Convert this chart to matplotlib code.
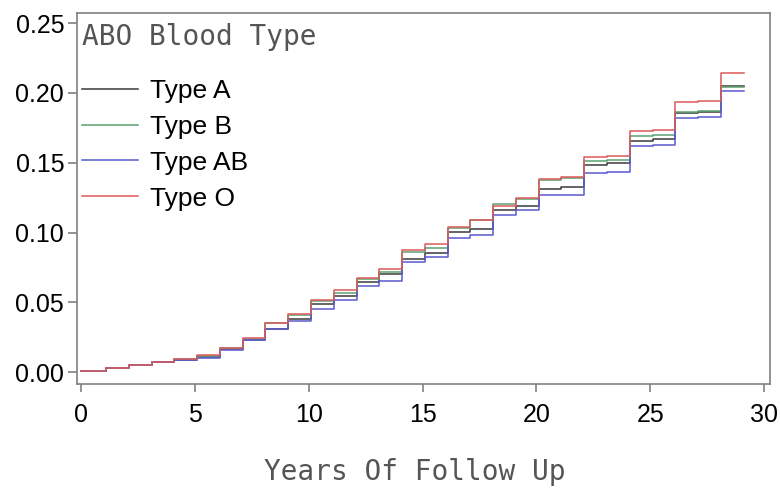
import matplotlib
matplotlib.use("Agg")
import matplotlib.pyplot as plt
import numpy as np

# step times (years) and cumulative incidence for each blood type
years = [0, 1.1, 2.1, 3.1, 4.1, 5.1, 6.1, 7.1, 8.1, 9.1, 10.1, 11.1, 12.1, 13.1,
         14.1, 15.1, 16.1, 17.1, 18.1, 19.1, 20.1, 21.1, 22.1, 23.1, 24.1,
         25.1, 26.1, 27.1, 28.1]
end_year = 29.1

type_a = [0.001, 0.003, 0.005, 0.007, 0.009, 0.011, 0.0165, 0.023, 0.031, 0.038,
          0.0486, 0.0545, 0.0645, 0.070, 0.0812, 0.0855, 0.1002, 0.1025, 0.1164,
          0.119, 0.1314, 0.1324, 0.1486, 0.150, 0.1657, 0.1667, 0.1855, 0.1862, 0.205]
type_b = [0.001, 0.003, 0.005, 0.007, 0.0092, 0.0118, 0.017, 0.024, 0.035, 0.041,
          0.051, 0.057, 0.0664, 0.072, 0.0862, 0.089, 0.103, 0.109, 0.1207,
          0.124, 0.138, 0.139, 0.151, 0.152, 0.1693, 0.170, 0.1867, 0.1872, 0.2045]
type_ab = [0.001, 0.003, 0.005, 0.007, 0.009, 0.0105, 0.016, 0.0228, 0.031, 0.0365,
           0.0455, 0.052, 0.0617, 0.0652, 0.0788, 0.0826, 0.0962, 0.0986, 0.1129,
           0.1159, 0.1271, 0.1271, 0.1426, 0.1433, 0.1617, 0.1625, 0.182, 0.183, 0.2014]
type_o = [0.001, 0.003, 0.005, 0.007, 0.0095, 0.012, 0.0172, 0.0245, 0.0355, 0.042,
          0.052, 0.0588, 0.0676, 0.0736, 0.0874, 0.0919, 0.104, 0.1088, 0.119,
          0.1248, 0.1386, 0.1395, 0.1538, 0.155, 0.173, 0.1735, 0.1936, 0.194, 0.2145]

series = [("Type A", type_a, "#3a3a3a"),
          ("Type B", type_b, "#5c9f72"),
          ("Type AB", type_ab, "#5a5ad0"),
          ("Type O", type_o, "#dc5a5a")]

x_ticks = [0, 5, 10, 15, 20, 25, 30]
y_ticks = [0.00, 0.05, 0.10, 0.15, 0.20, 0.25]

fig = plt.figure(figsize=(7.8, 4.93), dpi=100)
ax = fig.add_axes([0.0983, 0.221, 0.889, 0.753])

handles = []
for label, vals, color in series:
    xs = years + [end_year]
    ys = vals + [vals[-1]]
    h, = ax.step(xs, ys, where="post", color=color, lw=1.1, label=label)
    handles.append(h)

ax.set_xlim(-0.19, 30.26)
ax.set_ylim(-0.0085, 0.2574)
ax.set_xticks(x_ticks)
ax.set_xticklabels([str(t) for t in x_ticks])
ax.set_yticks(y_ticks)
ax.set_yticklabels(["%.2f" % t for t in y_ticks])

for s in ax.spines.values():
    s.set_color("#808080")
    s.set_linewidth(1.2)
ax.tick_params(axis="x", length=6, width=1.2, color="#808080", pad=8,
               labelsize=18)
ax.tick_params(axis="y", length=6.5, width=1.2, color="#808080", pad=2.5,
               labelsize=18)
for lab in ax.get_xticklabels() + ax.get_yticklabels():
    lab.set_family("Liberation Sans")

ax.set_xlabel("Years Of Follow Up", family="DejaVu Sans Mono", fontsize=20,
              color="#555555", labelpad=22)
ax.xaxis.label.set_x(0.487)

# legend title and entries
ax.text(0.008, 0.913, "ABO Blood Type", transform=ax.transAxes, ha="left",
        va="baseline", family="DejaVu Sans Mono", fontsize=20, color="#555555")
leg = ax.legend(handles=handles, loc="upper left", bbox_to_anchor=(0.008, 0.822),
                frameon=False, handlelength=2.1, handletextpad=0.45,
                labelspacing=0.45, borderaxespad=0, borderpad=0,
                prop={"family": "Liberation Sans", "size": 19})

fig.savefig("out.png", dpi=100)
